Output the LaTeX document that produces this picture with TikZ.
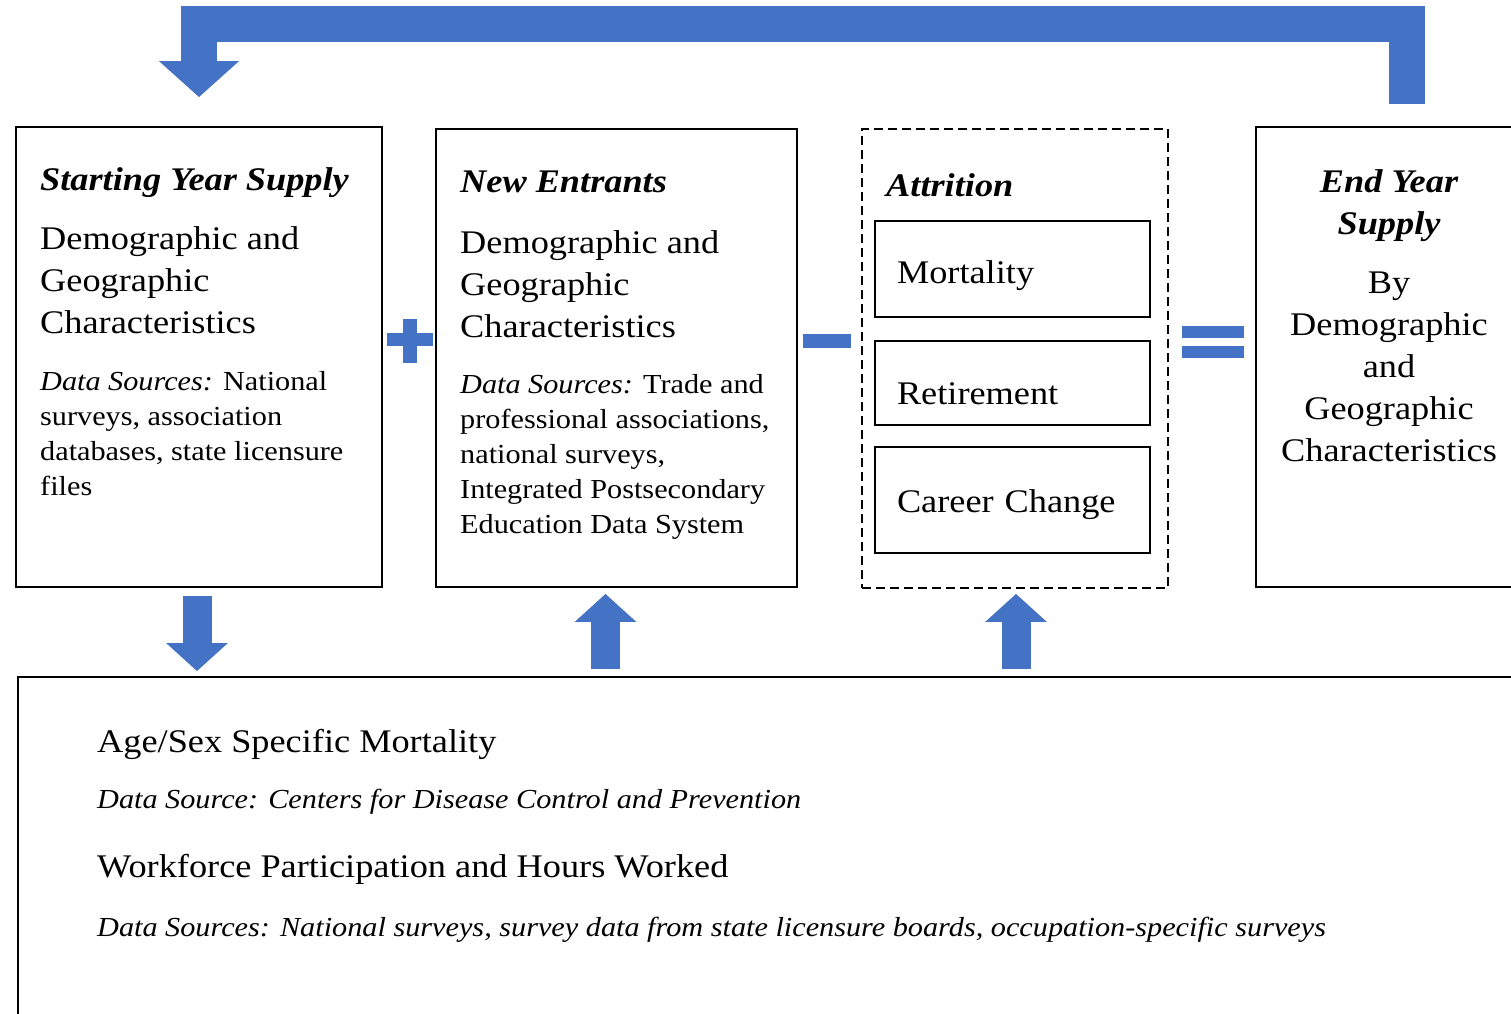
\documentclass[tikz,border=0pt]{standalone}
\usepackage{fontspec}
\setmainfont{Liberation Serif}[FakeStretch=1.1]
\usetikzlibrary{arrows.meta}
\definecolor{flowblue}{RGB}{68,114,196}
\newcommand\capfont{\fontsize{33}{42}\selectfont\bfseries\itshape}
\newcommand\bigtext{\fontsize{33}{42}\selectfont}
\newcommand\smalltext{\fontsize{27.5}{35}\selectfont}
\begin{document}
\begin{tikzpicture}[x=1pt, y=-1pt,
  panel/.style = {draw, line width=1.8pt, inner sep=0pt},
  txt/.style = {anchor=north west, inner sep=0pt, align=left},
  cause/.style = {draw, line width=1.8pt, minimum width=275, minimum height=96,
                  text width=231, inner xsep=22, align=left, font=\bigtext, text depth=0},
  fatarrow/.style = {flowblue, line width=29pt, -{Triangle[width=60pt, length=28pt]}}
  ]
  \useasboundingbox (0,0) rectangle (1511,1013);
  \clip (0,0) rectangle (1511,1013);

  %supply boxes
  \node[panel, minimum width=366, minimum height=460] (start) at (199,357) {};
  \node[panel, minimum width=361, minimum height=458] (entrants) at (616.5,358) {};
  \node[panel, dash pattern=on 9pt off 5pt, minimum width=306, minimum height=459] (attrition) at (1015,358.5) {};
  \node[panel, minimum width=266, minimum height=460] (endsup) at (1389,357) {};

  %starting year
  \node[txt, font=\capfont] (starthead) at (40,167) {Starting Year Supply};
  \node[txt, font=\bigtext] (startbody) at (40,226) {Demographic and\\Geographic\\Characteristics};
  \node[txt, font=\smalltext] (startsrc) at (40,371) {\textit{Data Sources:} National\\surveys, association\\databases, state licensure\\files};

  %new entrants
  \node[txt, font=\capfont] (newhead) at (460,171) {New Entrants};
  \node[txt, font=\bigtext] (newbody) at (460,230) {Demographic and\\Geographic\\Characteristics};
  \node[txt, font=\smalltext] (newsrc) at (460,374) {\textit{Data Sources:} Trade and\\professional associations,\\national surveys,\\Integrated Postsecondary\\Education Data System};

  %attrition
  \node[txt, font=\capfont] (atthead) at (886,173) {Attrition};
  \node[cause, text height=29] (mortality) at (1012.5,269) {Mortality};
  \node[cause, minimum height=84, text height=42] (retire) at (1012.5,383) {Retirement};
  \node[cause, minimum height=106, text height=24] (career) at (1012.5,500) {Career Change};

  %end year
  \node[txt, anchor=north, align=center, font=\capfont] (endhead) at (1389,169) {End Year\\Supply};
  \node[txt, anchor=north, align=center, font=\bigtext] (endbody) at (1389,272) {By\\Demographic\\and\\Geographic\\Characteristics};

  %signs
  \fill[flowblue] (387,333) rectangle (433,346);
  \fill[flowblue] (403,319) rectangle (417,363);
  \fill[flowblue] (803,334) rectangle (851,348);
  \fill[flowblue] (1182,326) rectangle (1244,338);
  \fill[flowblue] (1182,346) rectangle (1244,358);

  %factors box
  \node[panel, minimum width=1512, minimum height=360] (info) at (774,857) {};
  \node[txt, font=\bigtext] (mort) at (97,729) {Age/Sex Specific Mortality};
  \node[txt, font={\smalltext\itshape}] (mortsrc) at (97,789) {Data Source: Centers for Disease Control and Prevention};
  \node[txt, font=\bigtext] (work) at (97,854) {Workforce Participation and Hours Worked};
  \node[txt, font={\smalltext\itshape}] (worksrc) at (97,917) {Data Sources: National surveys, survey data from state licensure boards, occupation-specific surveys};

  %arrows
  \coordinate (top) at (0,24);
  \draw[fatarrow, line width=36pt, -{Triangle[width=78pt, length=36pt]}, shorten <=22pt, shorten >=29pt]
    ([xshift=18pt]endsup.north) -- ([xshift=18pt]endsup.north |- top) -- (start.north |- top) -- (start.north);
  \draw[fatarrow, shorten <=8pt, shorten >=5pt] ([xshift=-2pt]start.south) -- ([xshift=-2pt]start.south |- info.north);
  \draw[fatarrow, shorten <=7pt, shorten >=6pt] ([xshift=-11pt]entrants.south |- info.north) -- ([xshift=-11pt]entrants.south);
  \draw[fatarrow, shorten <=7pt, shorten >=5pt] ([xshift=1pt]attrition.south |- info.north) -- ([xshift=1pt]attrition.south);
\end{tikzpicture}
\end{document}
